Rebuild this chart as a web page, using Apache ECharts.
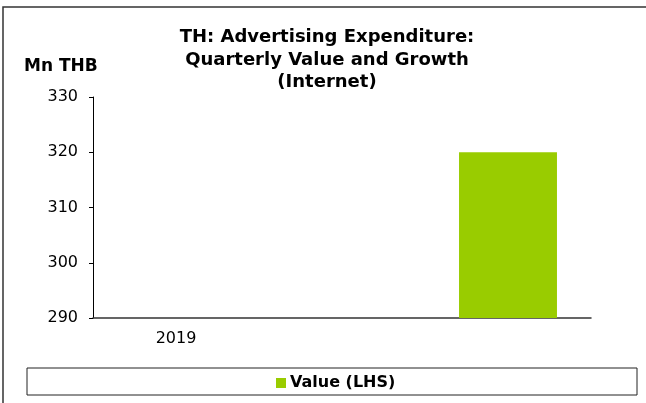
<!DOCTYPE html>
<html><head><meta charset="utf-8">
<script src="https://cdn.jsdelivr.net/npm/echarts@6/dist/echarts.min.js"></script>
<style>html,body{margin:0;padding:0;background:#fff}#c{width:646px;height:403px}</style>
</head><body><div id="c"></div>
<script>
const categories = ['2019', '', ''];
const values = [null, null, 320];
const yTicks = [290, 300, 310, 320, 330];
const seriesName = 'Value (LHS)';
const titleText = 'TH: Advertising Expenditure:\nQuarterly Value and Growth\n(Internet)';
const unitLabel = 'Mn THB';

const chart = echarts.init(document.getElementById('c'), null, {renderer: 'canvas'});
const F = '"DejaVu Sans", Verdana, sans-serif';
chart.setOption({
  animation: false,
  backgroundColor: '#fff',
  title: {
    text: titleText,
    left: 327, top: 26, textAlign: 'center', padding: 0,
    textStyle: {fontFamily: F, fontWeight: 'bold', fontSize: 18, lineHeight: 22.7, color: '#000'}
  },
  graphic: [
    {type: 'rect', shape: {x: 3, y: 7, width: 700, height: 500}, style: {fill: 'none', stroke: '#333', lineWidth: 1.5}, silent: true},
    {type: 'rect', shape: {x: 27, y: 368, width: 610, height: 27}, style: {fill: '#fff', stroke: '#222', lineWidth: 1}, silent: true, z: 0},
    {type: 'text', x: 24, y: 67, style: {text: unitLabel, font: 'bold 17px ' + F, fill: '#000', verticalAlign: 'middle', textVerticalAlign: 'middle'}}
  ],
  legend: {
    data: [seriesName], left: 276, top: 375, padding: 0, itemWidth: 10, itemHeight: 10, itemGap: 4,
    icon: 'rect',
    textStyle: {fontFamily: F, fontWeight: 'bold', fontSize: 16, color: '#000', padding: [0,0,0,-1]}
  },
  grid: {left: 93, right: 55, top: 97, bottom: 85, containLabel: false},
  xAxis: {
    type: 'category', data: categories,
    axisLine: {lineStyle: {color: '#333', width: 1.5}},
    axisTick: {show: false},
    axisLabel: {fontFamily: F, fontSize: 16, color: '#000', margin: 13}
  },
  yAxis: {
    type: 'value', min: 290, max: 330, interval: 10,
    axisLine: {show: true, lineStyle: {color: '#000'}},
    axisTick: {show: true, length: 4, lineStyle: {color: '#000'}},
    splitLine: {show: false},
    axisLabel: {fontFamily: F, fontSize: 16, color: '#000', margin: 15,
      formatter: v => yTicks.includes(v) ? String(v) : ''}
  },
  series: [{
    name: seriesName, type: 'bar', data: values, barWidth: '59%',
    itemStyle: {color: '#99CC00'}
  }]
});
</script></body></html>
